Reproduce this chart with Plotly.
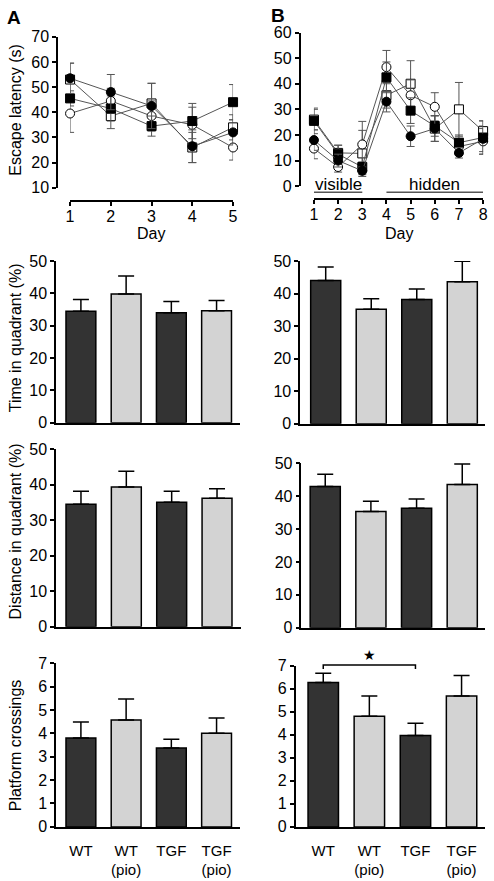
import plotly.graph_objects as go

W, H = 494, 881


def fx(px):
    return px / W


def fy(py):
    return 1 - py / H


FONT = "Liberation Sans, Arial, sans-serif"

# ---------------- data ----------------
days_a = [1, 2, 3, 4, 5]
days_b = [1, 2, 3, 4, 5, 6, 7, 8]

# Panel A escape latency (s)
a_wt = [53.5, 48.0, 42.5, 26.5, 32.0]
a_wt_err = [6.0, 7.0, 9.0, 6.5, 5.0]
a_wtpio = [39.5, 44.5, 38.5, 35.0, 26.0]
a_wtpio_err = [7.5, 5.0, 6.0, 7.0, 5.0]
a_tgf = [45.5, 41.5, 34.5, 36.5, 44.0]
a_tgf_err = [3.0, 5.0, 4.0, 7.0, 7.0]
a_tgfpio = [53.0, 38.5, 43.5, 26.0, 34.0]
a_tgfpio_err = [6.5, 5.0, 8.0, 6.0, 5.0]

# Panel B escape latency (s)
b_wt = [18.0, 10.0, 6.0, 33.0, 19.5, 22.5, 13.0, 18.5]
b_wt_err = [4.0, 2.5, 1.5, 4.0, 4.0, 5.0, 2.0, 5.0]
b_wtpio = [14.7, 7.5, 16.3, 46.5, 35.5, 31.0, 15.5, 17.5]
b_wtpio_err = [4.0, 2.0, 9.0, 6.5, 6.0, 5.5, 3.0, 5.0]
b_tgf = [25.5, 12.5, 7.5, 42.5, 29.5, 23.5, 17.0, 19.0]
b_tgf_err = [5.0, 3.5, 2.0, 6.0, 5.0, 4.0, 3.0, 6.5]
b_tgfpio = [26.0, 13.0, 12.8, 35.5, 40.0, 22.5, 30.0, 21.5]
b_tgfpio_err = [4.0, 3.0, 9.0, 5.0, 9.0, 5.0, 10.5, 4.0]

groups = ["WT", "WT<br>(pio)", "TGF", "TGF<br>(pio)"]
bar_colors = ["#333333", "#d3d3d3", "#333333", "#d3d3d3"]

time_a = [34.5, 39.8, 34.0, 34.6]
time_a_err = [3.6, 5.6, 3.5, 3.2]
time_b = [44.0, 35.2, 38.2, 43.6]
time_b_err = [4.2, 3.2, 3.2, 6.3]

dist_a = [34.5, 39.4, 35.1, 36.2]
dist_a_err = [3.7, 4.4, 3.1, 2.7]
dist_b = [42.9, 35.3, 36.3, 43.5]
dist_b_err = [3.7, 3.1, 2.8, 6.2]

plat_a = [3.8, 4.57, 3.37, 4.0]
plat_a_err = [0.68, 0.9, 0.38, 0.65]
plat_b = [6.27, 4.81, 3.97, 5.69]
plat_b_err = [0.4, 0.88, 0.53, 0.89]

# ---------------- figure ----------------
fig = go.Figure()

LINE_C = "#555555"


def line_trace(x, y, err, symbol, fill, xa, ya):
    return go.Scatter(
        x=x, y=y, xaxis=xa, yaxis=ya, mode="lines+markers",
        line=dict(color=LINE_C, width=1),
        marker=dict(symbol=symbol, size=9, color=fill,
                    line=dict(color="black", width=1)),
        error_y=dict(type="data", array=err, color=LINE_C, thickness=1, width=4),
        cliponaxis=False, showlegend=False, hoverinfo="skip",
    )


# order: open square, open circle, filled square, filled circle (on top)
for xa, ya, xs, series in [
    ("x", "y", days_a, [(a_tgfpio, a_tgfpio_err, "square", "white"),
                        (a_wtpio, a_wtpio_err, "circle", "white"),
                        (a_tgf, a_tgf_err, "square", "black"),
                        (a_wt, a_wt_err, "circle", "black")]),
    ("x2", "y2", days_b, [(b_tgfpio, b_tgfpio_err, "square", "white"),
                          (b_wtpio, b_wtpio_err, "circle", "white"),
                          (b_tgf, b_tgf_err, "square", "black"),
                          (b_wt, b_wt_err, "circle", "black")]),
]:
    for vals, errs, sym, fill in series:
        fig.add_trace(line_trace(xs, vals, errs, sym, fill, xa, ya))


def bar_trace(vals, errs, xa, ya):
    return go.Bar(
        x=groups, y=vals, xaxis=xa, yaxis=ya, width=0.66,
        marker=dict(color=bar_colors, line=dict(color="black", width=1.5)),
        error_y=dict(type="data", symmetric=False, array=errs,
                     arrayminus=[0] * len(errs), color="black",
                     thickness=1.5, width=8),
        showlegend=False, hoverinfo="skip",
    )


bar_panels = [
    (time_a, time_a_err, "x3", "y3"),
    (time_b, time_b_err, "x4", "y4"),
    (dist_a, dist_a_err, "x5", "y5"),
    (dist_b, dist_b_err, "x6", "y6"),
    (plat_a, plat_a_err, "x7", "y7"),
    (plat_b, plat_b_err, "x8", "y8"),
]
for vals, errs, xa, ya in bar_panels:
    fig.add_trace(bar_trace(vals, errs, xa, ya))

tickfont = dict(family=FONT, size=16, color="black")
catfont = dict(family=FONT, size=15, color="black")
axis_common = dict(showgrid=False, zeroline=False, showline=True,
                   linecolor="black", linewidth=1.5, tickfont=tickfont,
                   tickcolor="black", fixedrange=True)

layout = dict(
    width=W, height=H, margin=dict(l=0, r=0, t=0, b=0),
    paper_bgcolor="white", plot_bgcolor="rgba(0,0,0,0)",
    font=dict(family=FONT, size=16, color="black"),
    barmode="group", showlegend=False,
)

# line chart A
layout["xaxis"] = dict(axis_common, domain=[fx(67.3), fx(233.3)], range=[1, 5],
                       anchor="free", position=fy(197), tickvals=days_a,
                       ticks="outside", ticklen=4, tickwidth=1.5,
                       ticklabelstandoff=-3)
layout["yaxis"] = dict(axis_common, domain=[fy(183.3), fy(29.3)], range=[10, 70],
                       anchor="free", position=fx(54), dtick=10,
                       ticks="outside", ticklen=4, tickwidth=1.5)
# line chart B
layout["xaxis2"] = dict(axis_common, domain=[fx(315.7), fx(488)], range=[1, 8],
                        anchor="free", position=fy(195), tickvals=days_b,
                        ticks="outside", ticklen=4, tickwidth=1.5,
                        ticklabelstandoff=-3)
layout["yaxis2"] = dict(axis_common, domain=[fy(181.7), fy(25)], range=[0, 60],
                        anchor="free", position=fx(301), dtick=10,
                        ticks="outside", ticklen=4, tickwidth=1.5)

bar_geo = {
    3: ([53, 240], [-0.55, 3.51], [423, 258], [0, 50], 10, False),
    4: ([301.7, 490], [-0.56, 3.5], [424, 258], [0, 50], 10, False),
    5: ([53, 241], [-0.55, 3.52], [631, 450], [0, 50], 10, False),
    6: ([303, 490], [-0.52, 3.5], [632, 464], [0, 50], 10, False),
    7: ([53, 240], [-0.55, 3.51], [835, 668], [0, 7], 1, True),
    8: ([297, 490], [-0.6, 3.51], [835, 670.7], [0, 7], 1, True),
}
for i, (xd, xr, yd, yr, dt, labels) in bar_geo.items():
    layout[f"xaxis{i}"] = dict(axis_common, domain=[fx(xd[0]), fx(xd[1])], range=xr,
                               anchor=f"y{i}", type="category", ticks="",
                               showticklabels=labels, ticklabelstandoff=9,
                               tickfont=catfont)
    layout[f"yaxis{i}"] = dict(axis_common, domain=[fy(yd[0]), fy(yd[1])], range=yr,
                               anchor=f"x{i}", dtick=dt, ticks="outside",
                               ticklen=4, tickwidth=1.5)

fig.update_layout(**layout)

ann_font = dict(family=FONT, size=16, color="black")


def ann(text, x, y, xref="paper", yref="paper", angle=0, xanchor="center",
        yanchor="middle", font=None):
    fig.add_annotation(text=text, x=x, y=y, xref=xref, yref=yref,
                       showarrow=False, textangle=angle,
                       xanchor=xanchor, yanchor=yanchor,
                       font=font or ann_font)


label_font = dict(family=FONT, size=19, color="black")
ann("<b>A</b>", fx(10), fy(10), font=label_font)
ann("<b>B</b>", fx(279), fy(8), font=label_font)
ann("Escape latency (s)", fx(12), fy(104), angle=-90)
ann("Time in quadrant (%)", fx(12), fy(336), angle=-90)
ann("Distance in quadrant (%)", fx(12), fy(534), angle=-90)
ann("Platform crossings", fx(12), fy(752), angle=-90)
ann("Day", fx(150), fy(230))
ann("Day", fx(402), fy(230))
ann("visible", 2, fy(192), xref="x2", yanchor="bottom",
    font=dict(family=FONT, size=17, color="black"))
ann("hidden", 6, fy(192), xref="x2", yanchor="bottom",
    font=dict(family=FONT, size=17, color="black"))
ann("★", 1, fy(660), xref="x8", font=dict(family="DejaVu Sans", size=14, color="black"))

# underline bars for visible / hidden phases
fig.add_shape(type="line", xref="x2", yref="paper", x0=1, x1=3, y0=fy(188), y1=fy(188),
              line=dict(color=LINE_C, width=1.5))
fig.add_shape(type="line", xref="x2", yref="paper", x0=4, x1=8, y0=fy(188), y1=fy(188),
              line=dict(color=LINE_C, width=1.5))
# significance bracket WT vs TGF in panel B platform crossings
fig.add_shape(type="path", xref="x8", yref="paper",
              path=f"M 0,{fy(674)} L 0,{fy(670)} L 2,{fy(670)} L 2,{fy(674)}",
              line=dict(color="black", width=1.5))

fig.write_html(
    "out.html",
    config={"displayModeBar": False},
    post_script="document.body.style.margin='0px';document.body.style.overflow='hidden';",
)
